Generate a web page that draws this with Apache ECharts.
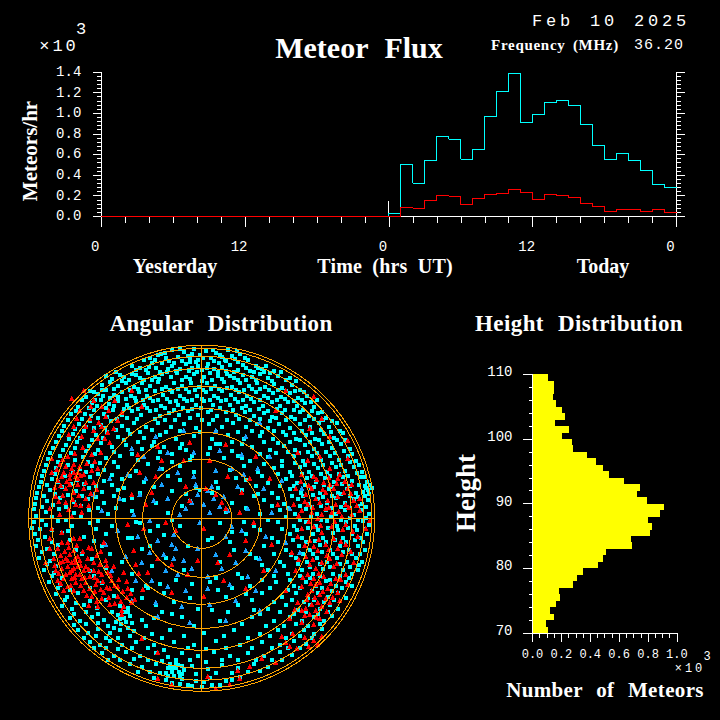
<!DOCTYPE html>
<html>
<head>
<meta charset="utf-8">
<style>
html,body{margin:0;padding:0;background:#000;}
#main{width:720px;height:720px;}
#main path,#main rect,#main circle{shape-rendering:crispEdges;}
</style>
<script src="https://cdn.jsdelivr.net/npm/echarts@6/dist/echarts.min.js"></script>
</head>
<body>
<div id="main"></div>
<script>
// meteors/hr per hour bin, x10^3
var yesterdayFlux=[0,0,0,0,0,0,0,0,0,0,0,0,0,0,0,0,0,0,0,0,0,0,0,0];
var todayAll=[0.03,0.504,0.32,0.543,0.776,0.747,0.553,0.65,0.97,1.212,1.387,0.912,0.989,1.106,1.125,1.077,0.892,0.689,0.553,0.611,0.543,0.446,0.31,0.281];
var todayGood=[0,0.087,0.078,0.155,0.204,0.194,0.116,0.175,0.213,0.223,0.262,0.233,0.165,0.213,0.204,0.184,0.126,0.097,0.048,0.068,0.068,0.048,0.068,0.039];
var midnightMark=[[24,0],[24,0.148]];
var fluxTickLabels=["0","12","0","12","0"];

// number of meteors per 1 km bin, x10^3, from 110 km down to 70 km
var heightCounts=[0.108,0.15,0.15,0.143,0.164,0.206,0.226,0.157,0.254,0.206,0.275,0.282,0.379,0.441,0.49,0.531,0.635,0.746,0.725,0.794,0.912,0.885,0.801,0.829,0.815,0.684,0.691,0.51,0.49,0.455,0.351,0.309,0.282,0.185,0.192,0.164,0.122,0.15,0.095,0.108];

// sky plot rings and cross, in plot units (1 unit is 1 pixel)
var skyRings=[30,59,86,110,132,150,162,170,173];
var crossH=[[-173,0],[173,0]];
var crossV=[[0,-173],[0,173]];

// sky plot detections: a hand read sample of the dots, there are too many to read all of them
var cyanDots=[
[-30,168],[-18,166],[-8,169],[4,167],[14,165],[26,168],[38,164],[-44,163],[-36,160],[-24,161],[-12,160],[-2,163],[9,160],[20,161],[33,159],[46,158],
[-58,158],[-50,155],[-40,155],[-28,155],[-16,154],[-6,156],[6,154],[17,155],[28,153],[41,153],[54,152],[-70,152],[-62,150],[-46,150],[-34,149],[-22,149],[-10,150],[0,148],[12,149],[24,147],[36,148],[48,147],[60,149],[68,145],
[-96,142],[-86,146],[-78,141],[-70,144],[-62,140],[-54,145],[-47,141],[-40,144],[-31,141],[-25,145],[-16,141],[-8,144],[2,141],[8,145],[16,142],[25,144],[32,140],[41,143],[50,141],[58,144],[66,140],[76,142],[84,138],
[-100,133],[-92,136],[-84,132],[-76,135],[-68,131],[-60,135],[-52,132],[-44,136],[-36,131],[-28,135],[-20,132],[-11,135],[-3,131],[5,135],[13,132],[22,136],[30,131],[38,135],[47,132],[55,135],[63,131],[72,134],[80,130],[90,133],[98,128],
[-112,127],[-104,124],[-96,128],[-88,123],[-80,126],[-71,122],[-63,126],[-55,122],[-47,127],[-39,123],[-30,126],[-22,122],[-13,126],[-5,122],[4,126],[12,122],[20,127],[29,123],[37,126],[45,122],[54,126],[62,122],[71,125],[79,121],[88,125],[96,120],[105,122],
[-120,118],[-110,115],[-101,118],[-93,114],[-84,117],[-75,113],[-66,117],[-58,113],[-49,117],[-41,112],[-32,116],[-24,113],[-15,117],[-6,113],[2,117],[11,113],[19,117],[28,113],[36,116],[44,112],[52,116],[61,112],[70,116],[78,112],[86,116],[95,112],[103,115],[112,111],
[-126,107],[-117,104],[-108,108],[-98,104],[-89,108],[-80,103],[-70,107],[-61,103],[-52,107],[-42,102],[-33,105],[-23,103],[-14,107],[-4,103],[6,106],[15,102],[24,106],[34,103],[43,106],[52,102],[62,105],[70,101],[80,105],[89,101],[98,106],[107,102],[116,105],[124,100],
[-134,98],[-123,94],[-112,97],[-101,93],[-91,97],[-80,92],[-68,95],[-56,91],[-44,95],[-31,91],[-18,94],[-6,90],[7,94],[20,91],[31,95],[44,91],[55,94],[66,90],[77,94],[88,90],[98,94],[108,91],[117,95],[127,91],[135,95],
[-140,87],[-129,84],[-118,87],[-106,83],[-95,86],[-84,81],[-72,84],[-58,80],[-42,83],[-26,79],[-8,82],[10,79],[26,83],[42,79],[58,82],[71,79],[84,83],[94,79],[104,83],[113,79],[122,84],[132,80],[141,85],
[-146,76],[-136,73],[-125,76],[-113,72],[-101,75],[-90,71],[-76,73],[-60,69],[-38,71],[-16,68],[8,70],[30,67],[50,71],[68,68],[82,72],[93,68],[103,73],[112,69],[120,74],[130,70],[139,74],[148,69],
[-152,65],[-142,62],[-131,65],[-119,61],[-107,64],[-96,60],[-82,62],[-64,58],[-44,60],[-12,58],[22,60],[48,57],[66,61],[80,57],[92,62],[101,57],[110,62],[119,58],[128,62],[137,58],[146,62],[154,57],
[-156,53],[-146,50],[-134,53],[-122,49],[-110,52],[-98,48],[-84,51],[-66,47],[-40,49],[-8,46],[28,48],[56,46],[72,50],[88,46],[98,51],[107,46],[116,50],[125,46],[134,51],[143,47],[152,51],[160,46],
[-160,42],[-150,39],[-137,42],[-125,38],[-112,41],[-98,37],[-80,39],[-58,36],[-22,38],[14,36],[44,38],[66,35],[84,39],[95,35],[105,40],[114,36],[123,40],[132,36],[141,41],[150,37],[158,41],[165,36],[168,33],[163,32],[166,28],[170,30],[161,26],[167,24],
[-163,31],[-152,28],[-140,31],[-126,27],[-113,30],[-100,26],[-84,28],[-62,25],[-30,27],[10,25],[40,28],[70,25],[88,29],[99,25],[109,30],[118,25],[127,29],[136,25],[145,29],[154,25],
[-166,20],[-155,17],[-142,20],[-128,16],[-114,19],[-98,15],[-78,18],[-46,15],[-12,17],[30,15],[62,18],[82,14],[96,19],[106,14],[116,19],[125,15],[134,20],[143,15],[152,19],[160,14],[166,18],
[-168,9],[-156,6],[-143,9],[-128,5],[-113,8],[-94,4],[-70,7],[-34,5],[24,6],[58,4],[78,8],[93,4],[104,9],[115,4],[124,8],[134,4],[143,8],[152,3],[160,8],[167,4],
[-168,-4],[-156,-7],[-144,-3],[-130,-8],[-112,-5],[-90,-8],[-62,-5],[-22,-8],[18,-5],[52,-8],[76,-4],[92,-8],[104,-4],[114,-8],[125,-3],[135,-8],[144,-4],[153,-8],[161,-3],[167,-7],
[-167,-16],[-157,-19],[-140,-15],[-118,-19],[-96,-16],[-70,-20],[-38,-17],[10,-20],[44,-16],[70,-20],[88,-16],[100,-20],[111,-16],[121,-20],[131,-15],[141,-20],[150,-16],[159,-20],[165,-16],
[-166,-28],[-155,-31],[-144,-27],[-126,-32],[-100,-28],[-60,-31],[-14,-28],[32,-32],[62,-28],[84,-32],[97,-28],[108,-32],[118,-27],[128,-32],[138,-28],[147,-32],[156,-28],[163,-32],
[-163,-40],[-152,-43],[-110,-41],[-80,-44],[-36,-40],[18,-44],[54,-40],[78,-44],[94,-40],[105,-44],[115,-40],[125,-44],[135,-40],[145,-44],[154,-40],[160,-44],
[-158,-52],[-148,-55],[-112,-53],[-70,-56],[-18,-52],[36,-56],[66,-52],[86,-56],[100,-52],[111,-56],[121,-51],[131,-56],[141,-52],[150,-56],[156,-52],
[-153,-64],[-142,-67],[-100,-65],[-56,-68],[8,-64],[48,-68],[74,-64],[92,-68],[104,-64],[114,-68],[124,-63],[134,-68],[144,-64],[150,-68],
[-146,-76],[-135,-79],[-124,-75],[-88,-78],[-38,-75],[24,-79],[60,-75],[80,-79],[94,-75],[106,-80],[116,-75],[126,-79],[136,-75],[144,-80],
[-140,-88],[-130,-91],[-118,-87],[-105,-90],[-82,-88],[-78,-94],[-74,-90],[-84,-97],[-78,-100],[-72,-98],[-76,-104],[-81,-106],[-70,-105],[-46,-87],[-4,-91],[36,-87],[66,-91],[84,-87],[96,-92],[108,-87],[118,-91],[128,-87],[136,-91],
[-132,-100],[-122,-103],[-110,-99],[-98,-102],[-88,-110],[-60,-102],[-20,-99],[18,-103],[50,-99],[72,-103],[88,-99],[100,-103],[112,-99],[122,-103],[130,-98],
[-124,-112],[-114,-115],[-104,-111],[-92,-115],[-68,-113],[-50,-116],[-32,-112],[2,-115],[32,-112],[58,-116],[76,-112],[90,-116],[102,-112],[112,-116],[120,-111],
[-112,-124],[-102,-127],[-92,-123],[-80,-127],[-66,-124],[-48,-127],[-28,-124],[-8,-127],[14,-123],[38,-127],[60,-124],[78,-127],[92,-123],[104,-126],
[-100,-135],[-88,-138],[-76,-134],[-62,-138],[-46,-135],[-34,-139],[-20,-135],[-4,-138],[12,-134],[28,-138],[46,-135],[62,-138],[78,-134],[90,-137],
[-72,-146],[-60,-149],[-46,-146],[-34,-150],[-30,-154],[-26,-150],[-23,-154],[-28,-158],[-24,-147],[-18,-152],[-32,-146],[-10,-148],[6,-151],[20,-147],[36,-150],[52,-146],[66,-149],
[-48,-160],[-36,-162],[-20,-161],[-6,-163],[8,-160],[24,-163],[38,-159],[-14,-167],[10,-167],[0,-169]
];
// second pass over the same plot, the clumps between the dots above
var cyanClumps=[
[-41,164],[-37,165],[-22,169],[-14,162],[-10,164],[-4,158],[1,160],[11,168],[18,163],[23,158],[30,162],[35,167],[43,160],[-52,160],[-47,158],[-33,157],[-20,157],[-12,156],[12,157],[24,157],[36,156],[-66,148],[-56,148],[-53,151],[-42,146],[-30,152],[-26,147],[-13,147],[-4,152],[5,150],[16,146],[20,151],[32,146],[44,150],[52,146],[56,150],[64,152],[72,147],
[-90,139],[-82,143],[-73,138],[-66,143],[-58,138],[-50,138],[-43,139],[-35,146],[-20,138],[-12,139],[-5,146],[0,137],[10,138],[20,139],[28,142],[36,138],[44,138],[54,138],[62,146],[70,137],[79,146],[88,140],[94,137],
[-108,126],[-100,128],[-88,129],[-80,137],[-72,128],[-64,129],[-56,128],[-40,129],[-32,128],[-24,129],[-16,129],[-7,128],[1,128],[9,129],[17,129],[25,130],[34,128],[42,128],[50,129],[58,129],[67,128],[76,128],[84,127],[93,127],[102,126],
[-116,121],[-107,118],[-99,122],[-92,120],[-84,121],[-76,119],[-67,120],[-59,118],[-52,120],[-44,118],[-35,119],[-26,117],[-18,119],[-10,118],[0,119],[8,118],[16,120],[24,118],[33,119],[41,118],[49,119],[58,118],[66,120],[75,118],[83,119],[92,117],[100,118],[109,116],[115,118],
[-124,111],[-113,110],[-105,112],[-96,110],[-88,112],[-78,109],[-73,110],[-64,109],[-55,110],[-46,108],[-37,110],[-28,108],[-19,110],[-10,109],[-1,110],[9,108],[18,110],[31,108],[40,110],[48,108],[57,109],[66,107],[75,109],[83,108],[92,108],[101,108],[110,107],[120,106],
[-131,104],[-120,99],[-111,102],[-104,100],[-95,101],[-85,99],[-75,100],[-65,99],[-47,99],[-37,98],[-27,98],[-12,100],[0,98],[11,98],[25,98],[37,99],[48,98],[58,99],[68,97],[74,100],[84,98],[93,99],[103,98],[112,99],[121,98],[130,97],
[-138,92],[-127,89],[-116,91],[-108,90],[-97,90],[-86,88],[-74,88],[-62,86],[-50,88],[-36,86],[-22,87],[-2,86],[14,86],[36,86],[50,87],[60,86],[72,87],[81,86],[92,85],[100,87],[110,85],[119,88],[129,86],[138,87],
[-143,82],[-133,79],[-122,80],[-110,78],[-99,80],[-78,78],[-64,76],[-48,76],[-20,74],[18,74],[40,74],[62,76],[76,75],[88,76],[98,78],[108,76],[117,78],[127,76],[135,78],[143,78],
[-149,70],[-139,68],[-127,70],[-116,67],[-104,68],[-88,66],[-70,64],[-30,64],[36,62],[58,64],[74,65],[86,66],[97,65],[106,66],[115,65],[124,66],[133,65],[142,67],[150,64],
[-154,59],[-144,56],[-127,58],[-114,56],[-102,55],[-88,56],[-54,54],[-22,52],[42,52],[62,54],[80,52],[93,55],[103,53],[112,54],[121,53],[130,55],[139,53],[148,56],[157,53],
[-158,47],[-147,44],[-129,46],[-116,46],[-104,44],[-90,43],[-72,42],[-34,42],[34,40],[60,42],[76,44],[90,42],[100,44],[110,42],[119,44],[128,42],[137,44],[146,42],[155,45],[162,41],
[-161,36],[-155,33],[-144,36],[-131,34],[-118,34],[-106,32],[-90,33],[-48,31],[-6,30],[54,32],[78,32],[92,32],[103,33],[112,31],[122,33],[130,31],[140,34],[148,32],[157,33],[164,30],
[-165,25],[-158,22],[-147,24],[-134,23],[-120,22],[-106,21],[-88,22],[52,22],[76,20],[90,22],[101,22],[111,23],[121,21],[130,22],[139,24],[148,22],[156,21],[163,22],
[-167,14],[-160,11],[-149,13],[-136,11],[-121,12],[-104,10],[-86,10],[44,10],[70,12],[86,10],[98,12],[110,11],[119,12],[129,10],[139,11],[147,10],[156,12],[164,11],
[-166,2],[-160,-2],[-150,1],[-136,-2],[-121,1],[-104,-3],[66,-2],[84,1],[98,-2],[109,1],[119,-2],[129,1],[139,-2],[148,0],[156,-2],[164,0],
[-170,-10],[-162,-11],[-150,-12],[-134,-13],[-106,-11],[-52,-13],[58,-12],[80,-11],[95,-12],[106,-10],[116,-12],[126,-10],[136,-12],[146,-10],[155,-12],[163,-11],
[-164,-22],[-150,-24],[-132,-22],[-108,-23],[28,-24],[76,-24],[91,-22],[104,-24],[113,-23],[124,-24],[133,-22],[144,-24],[153,-22],[161,-24],
[-160,-34],[-148,-36],[-120,-36],[-92,-36],[48,-36],[72,-36],[89,-37],[101,-36],[111,-36],[120,-34],[131,-36],[141,-34],[150,-36],[158,-36],
[-155,-46],[-146,-48],[-96,-50],[-50,-48],[60,-47],[82,-48],[96,-46],[108,-49],[118,-46],[128,-49],[138,-46],[148,-49],[157,-47],
[-150,-58],[-140,-60],[-108,-58],[40,-60],[72,-58],[88,-62],[98,-58],[108,-60],[118,-58],[128,-62],[138,-58],[147,-60],
[-144,-70],[-132,-72],[-112,-70],[-70,-72],[16,-72],[68,-70],[86,-72],[98,-70],[110,-73],[120,-70],[130,-73],[140,-70],
[-137,-82],[-126,-85],[-112,-83],[-96,-82],[-60,-80],[50,-82],[72,-84],[90,-82],[102,-84],[112,-82],[122,-84],[132,-82],
[-128,-96],[-116,-94],[-104,-96],[-90,-94],[-74,-110],[-82,-101],[-86,-104],[-74,-94],[-40,-94],[26,-94],[58,-96],[78,-94],[92,-96],[104,-94],[116,-96],[126,-94],
[-128,-107],[-116,-106],[-104,-105],[-94,-108],[-82,-112],[-56,-108],[-8,-108],[40,-106],[64,-108],[82,-108],[94,-106],[106,-108],[118,-106],
[-118,-120],[-106,-118],[-96,-120],[-84,-120],[-72,-118],[-58,-120],[-40,-120],[-18,-118],[22,-118],[46,-120],[68,-118],[84,-120],[98,-118],[110,-120],
[-108,-130],[-96,-130],[-84,-131],[-70,-130],[-54,-130],[-38,-132],[-14,-130],[4,-131],[24,-130],[50,-130],[70,-130],[86,-130],[98,-130],
[-94,-142],[-82,-142],[-68,-141],[-54,-142],[-40,-143],[-26,-142],[-12,-142],[4,-144],[20,-142],[36,-142],[54,-142],[70,-142],[80,-142],
[-64,-154],[-52,-154],[-42,-155],[-36,-155],[-20,-156],[-30,-150],[-26,-146],[-20,-148],[-22,-158],[-34,-158],[-6,-156],[14,-155],[30,-155],[46,-154],[58,-153],
[-30,-165],[-22,-166],[-10,-168],[2,-164],[18,-167],[30,-162],
[-30,56],[-22,70],[-10,62],[6,64],[14,74],[-50,72],[-42,66],[40,60],[30,76],[-78,30],[-70,20],[-66,-4],[-74,-20],[-52,-28],[-44,-8],[-30,-2],[-20,12],[6,-22],[30,-14],[42,-4],[-2,28],[16,30],[-16,24],[56,24],[-54,-70],[-42,-66],[-26,-62],[-10,-66],[14,-60],[30,-70],[44,-76],[60,-62],[52,-92],[-28,-84],[-12,-80],[10,-92],[-48,-100],[-30,-96]
];
var blueTris=[
[-4,24],[6,28],[12,20],[-10,16],[18,12],[-16,10],[22,22],[2,14],[26,8],[-22,4],[8,6],[-2,-4],[-28,-16],[-4,-30],[14,-36],[24,-18],[-34,20],[-40,34],[-48,18],[-52,-2],[-44,-22],[-38,-36],[-28,-40],[-18,-42],[-52,-34],[-36,-52],[-24,-56],[-10,-50],[6,-58],[20,-50],[34,-44],[44,-32],[40,-12],[46,10],[36,32],[42,44],[30,50],[14,48],[-8,42],[-24,46],[-42,50],[-56,40],[-62,24],[-68,4],[-64,-18],[-60,-44],[-50,-62],[-34,-68],[-16,-72],[6,-70],[28,-66],[46,-58],[58,-40],[64,-18],[70,6],[62,30],[56,50],[40,64],[18,68],[-8,66],[-34,66],[-58,62],[-74,44],[-82,20],[-84,-12],[-76,-38],[-66,-62],[-46,-84],[-20,-88],[8,-86],[34,-82],[54,-72],[74,-52],[84,-24],[88,10],[80,38],[68,62],[44,82],[14,88],[-18,88],[-46,82],[-70,70],[-92,40],[-100,8],[-96,-26],[-90,-52],[-70,-82],[-44,-98],[-12,-104],[24,-102],[58,-92],[100,30],[98,-34],[-108,24],[58,96],[-6,34],[10,32],[-30,-26],[-26,-30],[30,-8]
];
var redTris=[
[-44,-134],[-12,18],[4,30],[-16,32],[14,24],[20,16],[24,10],[2,-10],[-26,-12],[-36,-4],[-50,26],[-46,42],[-56,14],[-58,-10],[-44,-40],[-30,-46],[-14,-56],[-4,-42],[16,-44],[28,-36],[44,-22],[52,-4],[38,6],[40,26],[48,40],[26,42],[8,58],[-18,58],[-40,58],[-62,46],[-70,24],[-74,-6],[-68,-32],[-54,-54],[-30,-74],[2,-78],[22,-62],[44,-70],[62,-52],[70,-26],[76,14],[68,40],[54,62],[24,74],[-12,76],[-44,72],[-64,64],
[-130,120],[-118,128],[-108,118],[-122,108],[-112,100],[-100,112],[-96,102],[-108,88],[-94,86],[-84,98],[-92,76],[-120,82],[-128,92],[-70,128],[-60,112],
[-150,60],[-142,54],[-134,62],[-138,46],[-130,50],[-128,46],[-126,42],[-132,40],[-122,52],[-118,44],[-124,34],[-144,38],[-150,46],[-136,30],[-128,26],[-118,30],[-146,22],[-136,16],[-126,14],[-116,20],[-108,36],[-104,50],[-110,64],[-152,10],[-142,4],[-130,2],[-120,6],
[-150,-10],[-140,-14],[-134,-24],[-144,-30],[-128,-32],[-136,-40],[-130,-44],[-134,-48],[-128,-50],[-132,-54],[-126,-56],[-136,-56],[-130,-60],[-124,-48],[-122,-42],[-140,-50],[-144,-62],[-134,-68],[-120,-60],[-116,-48],[-112,-58],[-108,-44],[-118,-72],[-106,-66],[-100,-56],[-110,-78],[-96,-42],[-98,-74],[-90,-62],[-88,-48],[-84,-78],[-92,-86],[-104,-88],[-80,-92],[-84,-68],[-78,-54],[-74,-70],[-70,-84],[-66,-46],[-110,-30],[-98,-24],[-122,-20],[-152,-30],[-156,-44],
[-80,-96],[-78,-88],[-60,-120],[-44,-160],[-30,-166],
[96,66],[106,58],[118,62],[128,50],[138,44],[146,60],[100,44],[112,42],[122,36],[132,30],[142,26],[150,34],[94,30],[104,24],[114,20],[124,26],[126,18],[134,14],[144,14],[152,18],[92,14],[100,8],[110,6],[120,4],[130,6],[140,2],[150,4],[158,8],[168,-2],[136,40],[108,90],[120,100],[74,108],[84,128],[112,122],[128,82],[146,78],[158,20],[164,-10],
[96,-18],[108,-22],[120,-14],[132,-20],[144,-26],[156,-18],[90,-34],[104,-38],[116,-32],[128,-40],[140,-36],[152,-44],[94,-52],[106,-56],[114,-50],[122,-58],[134,-60],[144,-56],[100,-68],[110,-72],[114,-66],[118,-76],[126,-70],[136,-74],[146,-66],[96,-84],[104,-90],[110,-86],[114,-92],[120,-88],[128,-84],[138,-82],[84,-72],[88,-100],[100,-104],[112,-106],[118,-100],[84,-124],[88,-128],[80,-118],[112,-122],[116,-126],[120,-118],[60,-140],[74,-144],[48,-148],[36,-152],[28,-166],[14,-170],[6,-158],[38,-160],
[-146,-52],[-142,-44],[-138,-60],[-132,-36],[-126,-64],[-122,-56],[-118,-52],[-114,-40],[-126,-44],[-130,-52],[-134,-42],[-124,-38],[-116,-64],[-108,-52],[-104,-62],[-102,-46],[-94,-54],[-92,-70],[-100,-80],[-112,-70],[-128,-72],[-138,-72],[-148,-40],[-152,-20],[-140,-24],[-128,-20],
[-136,52],[-132,44],[-128,54],[-124,46],[-140,42],[-132,34],[-124,40],[-116,36],[-110,48],[-104,80],[-100,92],[-116,92],[-88,90],[-80,106],
[110,30],[118,16],[128,34],[136,22],[146,30],[106,14],[116,0],[124,10],[144,-6],[112,-8],[130,-8],[100,-10],[112,-28],[124,-26],[136,-30],[108,-46],[120,-44],[132,-48],[112,-60],[118,-64],[106,-76],[124,-80],[116,-84],[108,-96],[100,-92],
[-141,-37],[-137,-33],[-133,-29],[-125,-27],[-119,-33],[-113,-29],[-105,-37],[-101,-33],[-147,-47],[-143,-55],[-139,-43],[-127,-41],[-121,-47],[-117,-59],[-113,-51],[-107,-59],[-103,-53],[-99,-63],[-95,-47],[-91,-57],[-87,-67],[-83,-61],[-79,-73],[-75,-63],[-95,-69],[-101,-71],[-107,-73],[-115,-77],[-121,-67],[-127,-59],[-131,-67],[-141,-65],[-93,-79],[-87,-85],[-81,-83],[-75,-79],[-71,-75],[-67,-81],[-63,-55],[-59,-71],[-105,-83],[-113,-87],
[-147,31],[-143,17],[-139,23],[-133,9],[-129,19],[-123,23],[-121,13],[-113,13],[-111,25],[-105,29],[-141,33],[-135,37],[-121,43],[-115,55],[-107,57],[-127,65],[-119,71],[-139,59],[-145,49],[-101,66],[-97,80],[-103,96],[-111,112],[-93,108],[-87,118],[-125,100],[-133,84],
[99,37],[107,33],[115,39],[121,29],[127,41],[135,35],[143,37],[149,25],[103,17],[111,11],[127,11],[137,7],[147,11],[155,13],[97,3],[107,-3],[119,-7],[133,-3],[141,-11],[151,-13],[103,-27],[117,-21],[127,-31],[139,-23],[149,-33],[97,-41],[111,-41],[125,-37],[135,-45],[101,-59],[109,-65],[117,-55],[129,-65],[139,-61],[105,-81],[113,-79],[121,-73],[131,-79],[93,-91],[103,-97],[115,-99],[125,-93],[91,-115],[103,-119],[95,-130],[107,-128]
];

// text of the figure
var textItems=[
{text:"Meteor Flux",x:359,y:47,size:30,serif:true,bold:true,ws:9},
{text:"Feb 10 2025",x:611,y:21,size:17,ls:3.8,ws:2},
{text:"Frequency (MHz)",x:555,y:45,size:15,serif:true,bold:true,ls:0.7,ws:3},
{text:"36.20",x:659,y:45,size:15,ls:1},
{text:"\u00d710",x:59,y:46,size:17,ls:6},
{text:"3",x:81,y:29,size:17},
{text:"Meteors/hr",x:30,y:151,size:21,serif:true,bold:true,rot:90},
{text:"Yesterday",x:175,y:266,size:20,serif:true,bold:true},
{text:"Time (hrs UT)",x:385,y:266,size:20,serif:true,bold:true,ls:0.2,ws:5},
{text:"Today",x:603,y:266,size:20,serif:true,bold:true},
{text:"Angular Distribution",x:221,y:323,size:23,serif:true,bold:true,ls:0.4,ws:8},
{text:"Height Distribution",x:579,y:323,size:23,serif:true,bold:true,ls:0.4,ws:8},
{text:"Height",x:466,y:493,size:27,serif:true,bold:true,rot:90},
{text:"Number of Meteors",x:605,y:690,size:21,serif:true,bold:true,ls:0.35,ws:8},
{text:"\u00d710",x:690,y:669,size:12,ls:3},
{text:"3",x:707,y:657,size:12}
];

var monoFont="Liberation Mono";
var serifFont="Liberation Serif";

var fluxCyan=[],fluxRed=[];
yesterdayFlux.concat(todayAll).forEach(function(v,i){ fluxCyan.push([i,v]); });
yesterdayFlux.concat(todayGood).forEach(function(v,i){ fluxRed.push([i,v]); });
fluxCyan.push([48,todayAll[23]]);
fluxRed.push([48,todayGood[23]]);

var heightBars=heightCounts.map(function(c,i){ return [c,109-i]; });

function lineAxis(){
    return {lineStyle:{color:"#fff",width:1}};
}

var chart=echarts.init(document.getElementById("main"),null,{renderer:"svg",width:720,height:720});

chart.setOption({
    backgroundColor:"#000",
    animation:false,
    grid:[
        {left:101.3,top:72,width:575.2,height:144.3},
        {left:21.7,top:338.3,width:360,height:360},
        {left:532.5,top:374.3,width:144.4,height:258.7}
    ],
    xAxis:[
        {gridIndex:0,type:"value",min:0,max:48,interval:12,
            axisLine:lineAxis(),splitLine:{show:false},
            axisTick:{length:11,lineStyle:{color:"#fff"}},
            minorTick:{show:true,splitNumber:6,length:7,lineStyle:{color:"#fff"}},
            axisLabel:{color:"#fff",fontFamily:monoFont,fontSize:14,margin:24,padding:[0,12,0,0],showMinLabel:true,showMaxLabel:true,
                formatter:function(v){ return fluxTickLabels[v/12]; }}},
        {gridIndex:1,type:"value",min:-180,max:180,show:false},
        {gridIndex:2,type:"value",min:0,max:1,interval:0.2,
            axisLine:lineAxis(),splitLine:{show:false},
            axisTick:{length:9,lineStyle:{color:"#fff"}},
            minorTick:{show:true,splitNumber:4,length:5,lineStyle:{color:"#fff"}},
            axisLabel:{color:"#fff",fontFamily:monoFont,fontSize:12,margin:16,showMinLabel:true,showMaxLabel:true,
                formatter:function(v){ return v.toFixed(1); }}}
    ],
    yAxis:[
        {gridIndex:0,type:"value",min:0,max:1.4,interval:0.2,
            axisLine:lineAxis(),splitLine:{show:false},
            axisTick:{length:8,lineStyle:{color:"#fff"}},
            minorTick:{show:true,splitNumber:5,length:4,lineStyle:{color:"#fff"}},
            axisLabel:{color:"#fff",fontFamily:monoFont,fontSize:14,margin:20,showMinLabel:true,showMaxLabel:true,
                formatter:function(v){ return v.toFixed(1); }}},
        {gridIndex:0,type:"value",position:"right",min:0,max:1.4,interval:0.2,
            axisLine:lineAxis(),splitLine:{show:false},
            axisTick:{length:8,lineStyle:{color:"#fff"}},
            minorTick:{show:true,splitNumber:5,length:4,lineStyle:{color:"#fff"}},
            axisLabel:{show:false}},
        {gridIndex:1,type:"value",min:-180,max:180,show:false},
        {gridIndex:2,type:"value",min:70,max:110,interval:10,
            axisLine:lineAxis(),splitLine:{show:false},
            axisTick:{length:10,lineStyle:{color:"#fff"}},
            minorTick:{show:true,splitNumber:5,length:4,lineStyle:{color:"#fff"}},
            axisLabel:{color:"#fff",fontFamily:monoFont,fontSize:14,margin:20,verticalAlign:"bottom",lineHeight:4,showMinLabel:true,showMaxLabel:true}}
    ],
    series:[
        {type:"line",xAxisIndex:0,yAxisIndex:0,data:midnightMark,showSymbol:false,clip:false,silent:true,lineStyle:{color:"#fff",width:1}},
        {type:"line",xAxisIndex:0,yAxisIndex:0,data:fluxCyan,step:"end",showSymbol:false,clip:false,lineStyle:{color:"#00ffff",width:1}},
        {type:"line",xAxisIndex:0,yAxisIndex:0,data:fluxRed,step:"end",showSymbol:false,clip:false,lineStyle:{color:"#ff0000",width:1}},

        {type:"scatter",xAxisIndex:1,yAxisIndex:2,data:cyanDots.concat(cyanClumps),symbol:"rect",symbolSize:4,itemStyle:{color:"#00ffff",opacity:1}},
        {type:"scatter",xAxisIndex:1,yAxisIndex:2,data:blueTris,symbol:"triangle",symbolSize:5,itemStyle:{color:"#1aa3ff",opacity:1}},
        {type:"scatter",xAxisIndex:1,yAxisIndex:2,data:redTris,symbol:"triangle",symbolSize:5,itemStyle:{color:"#ff0000",opacity:1}},
        {type:"custom",xAxisIndex:1,yAxisIndex:2,data:skyRings,z:5,
            renderItem:function(params,api){
                var c=api.coord([0,0]);
                return {type:"circle",shape:{cx:c[0],cy:c[1],r:api.size([api.value(0),0])[0]},
                    style:{fill:"none",stroke:"#ffa500",lineWidth:1}};
            }},
        {type:"line",xAxisIndex:1,yAxisIndex:2,data:crossH,showSymbol:false,z:5,lineStyle:{color:"#ffa500",width:1}},
        {type:"line",xAxisIndex:1,yAxisIndex:2,data:crossV,showSymbol:false,z:5,lineStyle:{color:"#ffa500",width:1}},

        {type:"custom",xAxisIndex:2,yAxisIndex:3,data:heightBars,encode:{x:0,y:1},
            renderItem:function(params,api){
                var a=api.coord([0,api.value(1)+1]);
                var b=api.coord([api.value(0),api.value(1)]);
                return {type:"rect",shape:{x:a[0],y:a[1],width:b[0]-a[0],height:b[1]-a[1]},style:{fill:"#ffff00"}};
            }}
    ],
    graphic:textItems.map(function(t){
        return {type:"text",x:t.x,y:t.y,rotation:t.rot?t.rot*Math.PI/180:0,silent:true,
            style:{text:t.text,fill:"#fff",textAlign:"center",textVerticalAlign:"middle",
                fontFamily:t.serif?serifFont:monoFont,fontSize:t.size,fontWeight:t.bold?"bold":"normal"}};
    })
});

// canvas text has no letter spacing in the library, so it is set on the svg text nodes
document.querySelectorAll("#main svg text").forEach(function(n){
    textItems.forEach(function(t){
        if(n.textContent==t.text){
            if(t.ls) n.style.letterSpacing=t.ls+"px";
            if(t.ws) n.style.wordSpacing=t.ws+"px";
        }
    });
});
</script>
</body>
</html>
